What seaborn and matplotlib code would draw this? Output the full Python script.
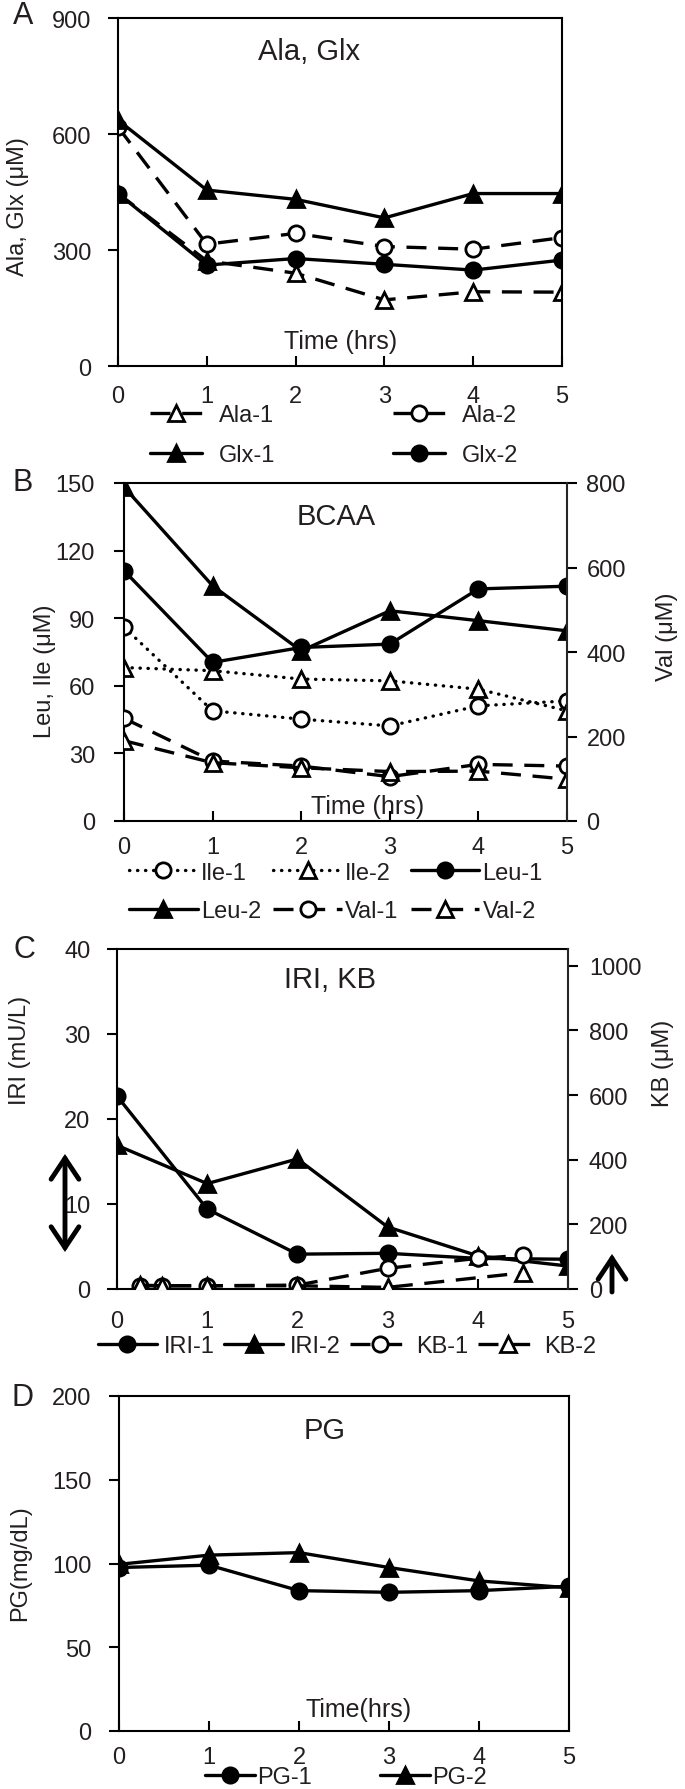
import matplotlib
matplotlib.use("Agg")
import matplotlib.pyplot as plt
import seaborn as sns

sns.set_style("ticks")
plt.rcParams['font.family'] = ['Liberation Sans Narrow', 'Liberation Sans', 'DejaVu Sans']
plt.rcParams['text.color'] = '#231f20'

hours = [0, 1, 2, 3, 4, 5]

# A: Ala, Glx (uM)
ala_1 = [446, 272, 240, 171, 192, 191]
ala_2 = [618, 315, 343, 309, 302, 332]
glx_1 = [636, 455, 431, 383, 446, 446]
glx_2 = [446, 261, 278, 263, 248, 274]

# B: Leu, Ile (uM) on the left, Val (uM) on the right
ile_1 = [86.0, 48.9, 45.2, 42.2, 51.1, 53.3]
ile_2 = [68.1, 66.7, 63.0, 62.2, 58.5, 48.9]
leu_1 = [111.1, 70.4, 77.0, 78.5, 103.0, 104.2]
leu_2 = [148.2, 104.4, 75.5, 93.3, 88.9, 84.4]
val_1 = [243, 142, 130, 105, 134, 130]
val_2 = [190, 138, 126, 117, 118, 99]

# C: IRI (mU/L) on the left, KB (uM) on the right
iri_1 = [22.7, 9.4, 4.1, 4.2, 3.6, 3.5]
iri_2 = [16.9, 12.4, 15.3, 7.3, 3.9, 2.7]
kb1_hours = [0.25, 0.5, 1, 2, 3, 4, 4.5]
kb_1 = [10, 10, 10, 12, 64, 95, 104]
kb2_hours = [0.25, 0.5, 1, 2, 3, 4.5]
kb_2 = [12, 10, 10, 10, 5, 50]

# D: PG (mg/dL)
pg_1 = [97.6, 99.0, 83.8, 82.8, 83.8, 86.4]
pg_2 = [99.5, 105.0, 106.5, 97.6, 89.6, 85.5]

W, H = 685, 1790
fig = plt.figure(figsize=(W / 100, H / 100), dpi=100)

SOLID = '-'
DASH = (0, (6, 3.5))
DOT = (0, (0.1, 2.3))
INK = '#231f20'
FS = 17


def rect(l, t, r, b):
    return [l / W, 1 - b / H, (r - l) / W, (b - t) / H]


def put(x, y, s, size, rot=0):
    fig.text(x / W, 1 - y / H, s, fontsize=size, rotation=rot, ha='center', va='center')


def draw(ax, x, y, label, ls, marker, filled):
    sns.lineplot(x=x, y=y, ax=ax, color='black', linestyle=ls, lw=2.4,
                 marker=marker, markersize=12 if marker == '^' else 11,
                 markeredgewidth=2,
                 markerfacecolor='black' if filled else 'white',
                 markeredgecolor='black', legend=False)
    line = ax.lines[-1]
    line.set_label(label)
    line.set_dash_capstyle('round' if ls == DOT else 'butt')
    return line


def style(ax, ylim, yticks, xpad, ypad=12, right=True):
    ax.set_xlim(0, 5)
    ax.set_xticks(hours)
    ax.set_ylim(*ylim)
    ax.set_yticks(yticks)
    ax.set_xlabel('')
    ax.set_ylabel('')
    ax.tick_params(axis='x', direction='in', length=7, width=1.5, pad=xpad,
                   labelsize=FS, colors='black', labelcolor=INK)
    ax.tick_params(axis='y', direction='out', length=7, width=1.5, pad=ypad,
                   labelsize=FS, colors='black', labelcolor=INK)
    for s in ax.spines.values():
        s.set_visible(True)
        s.set_linewidth(1.5)
        s.set_color('black')
    ax.spines['right'].set_visible(right)


def style_right(ax2, ylim, yticks, pad):
    ax2.set_ylim(*ylim)
    ax2.set_yticks(yticks)
    ax2.set_ylabel('')
    ax2.tick_params(axis='y', direction='out', length=7, width=1.5, pad=pad,
                    labelsize=FS, colors='black', labelcolor=INK)
    for name, s in ax2.spines.items():
        s.set_visible(name == 'right')
        s.set_linewidth(1.5)


def legend(handles, ncol, cx, cy, hl, tp, cs, ls):
    fig.legend(handles=handles, labels=[h.get_label() for h in handles],
               loc='center', bbox_to_anchor=(cx / W, 1 - cy / H), ncol=ncol,
               frameon=False, fontsize=FS, handlelength=hl, handletextpad=tp,
               columnspacing=cs, labelspacing=ls, borderpad=0, borderaxespad=0)


def arrow(ax, x, y0, y1, style_):
    ax.annotate('', xy=(x / W, 1 - y1 / H), xytext=(x / W, 1 - y0 / H),
                xycoords='figure fraction', textcoords='figure fraction',
                arrowprops=dict(arrowstyle=style_ + ',head_length=0.75,head_width=0.5',
                                lw=3.5, color='black', mutation_scale=20,
                                shrinkA=0, shrinkB=0, joinstyle='miter'),
                annotation_clip=False)


# ---- A ----
axA = fig.add_axes(rect(118, 19, 562, 367))
hA = {
    'Ala-1': draw(axA, hours, ala_1, 'Ala-1', DASH, '^', False),
    'Ala-2': draw(axA, hours, ala_2, 'Ala-2', DASH, 'o', False),
    'Glx-1': draw(axA, hours, glx_1, 'Glx-1', SOLID, '^', True),
    'Glx-2': draw(axA, hours, glx_2, 'Glx-2', SOLID, 'o', True),
}
style(axA, (0, 900), [0, 300, 600, 900], xpad=14, ypad=12)
put(23, 16, 'A', 22)
put(309, 52, 'Ala, Glx', 21)
put(341, 342, 'Time (hrs)', 18)
put(18, 207, 'Ala, Glx (μM)', FS, 90)
legend([hA['Ala-1'], hA['Glx-1'], hA['Ala-2'], hA['Glx-2']], 2, 334, 436,
       2.2, 0.7, 5.0, 0.75)

# ---- B ----
axB = fig.add_axes(rect(124, 484, 567, 822))
axB2 = axB.twinx()
hB = {
    'Ile-1': draw(axB, hours, ile_1, 'Ile-1', DOT, 'o', False),
    'Ile-2': draw(axB, hours, ile_2, 'Ile-2', DOT, '^', False),
    'Leu-1': draw(axB, hours, leu_1, 'Leu-1', SOLID, 'o', True),
    'Leu-2': draw(axB, hours, leu_2, 'Leu-2', SOLID, '^', True),
    'Val-1': draw(axB2, hours, val_1, 'Val-1', DASH, 'o', False),
    'Val-2': draw(axB2, hours, val_2, 'Val-2', DASH, '^', False),
}
style(axB, (0, 150), [0, 30, 60, 90, 120, 150], xpad=11, ypad=14, right=False)
style_right(axB2, (0, 800), [0, 200, 400, 600, 800], pad=7)
put(23, 483, 'B', 22)
put(336, 517, 'BCAA', 21)
put(368, 807, 'Time (hrs)', 18)
put(45, 671, 'Leu, Ile (μM)', FS, 90)
put(667, 637, 'Val (μM)', FS, 90)
legend([hB['Ile-1'], hB['Leu-2'], hB['Ile-2'], hB['Val-1'], hB['Leu-1'], hB['Val-2']],
       3, 336, 893, 2.9, 0.15, 0.5, 0.7)

# ---- C ----
axC = fig.add_axes(rect(117, 950, 568, 1290))
axC2 = axC.twinx()
hC = {
    'IRI-1': draw(axC, hours, iri_1, 'IRI-1', SOLID, 'o', True),
    'IRI-2': draw(axC, hours, iri_2, 'IRI-2', SOLID, '^', True),
    'KB-1': draw(axC2, kb1_hours, kb_1, 'KB-1', DASH, 'o', False),
    'KB-2': draw(axC2, kb2_hours, kb_2, 'KB-2', DASH, '^', False),
}
style(axC, (0, 40), [0, 10, 20, 30, 40], xpad=15, right=False)
style_right(axC2, (0, 1052), [0, 200, 400, 600, 800, 1000], pad=8)
put(24, 950, 'C', 22)
put(330, 980, 'IRI, KB', 21)
put(20, 1050, 'IRI (mU/L)', FS, 90)
put(663, 1063, 'KB (μM)', FS, 90)
legend([hC['IRI-1'], hC['IRI-2'], hC['KB-1'], hC['KB-2']], 4, 347, 1347,
       2.5, 0.3, 0.4, 0.5)
arrow(axC, 65, 1253, 1155, '<->')
arrow(axC, 612, 1293, 1255, '->')

# ---- D ----
axD = fig.add_axes(rect(119, 1397, 569, 1732))
hD = {
    'PG-1': draw(axD, hours, pg_1, 'PG-1', SOLID, 'o', True),
    'PG-2': draw(axD, hours, pg_2, 'PG-2', SOLID, '^', True),
}
style(axD, (0, 200), [0, 50, 100, 150, 200], xpad=11, ypad=13)
put(22, 1398, 'D', 22)
put(325, 1431, 'PG', 21)
put(359, 1710, 'Time(hrs)', 18)
put(20, 1563, 'PG(mg/dL)', FS, 90)
legend([hD['PG-1'], hD['PG-2']], 2, 346, 1778, 2.1, 0.1, 2.9, 0.5)

fig.savefig('out.png', dpi=100, facecolor='white')
